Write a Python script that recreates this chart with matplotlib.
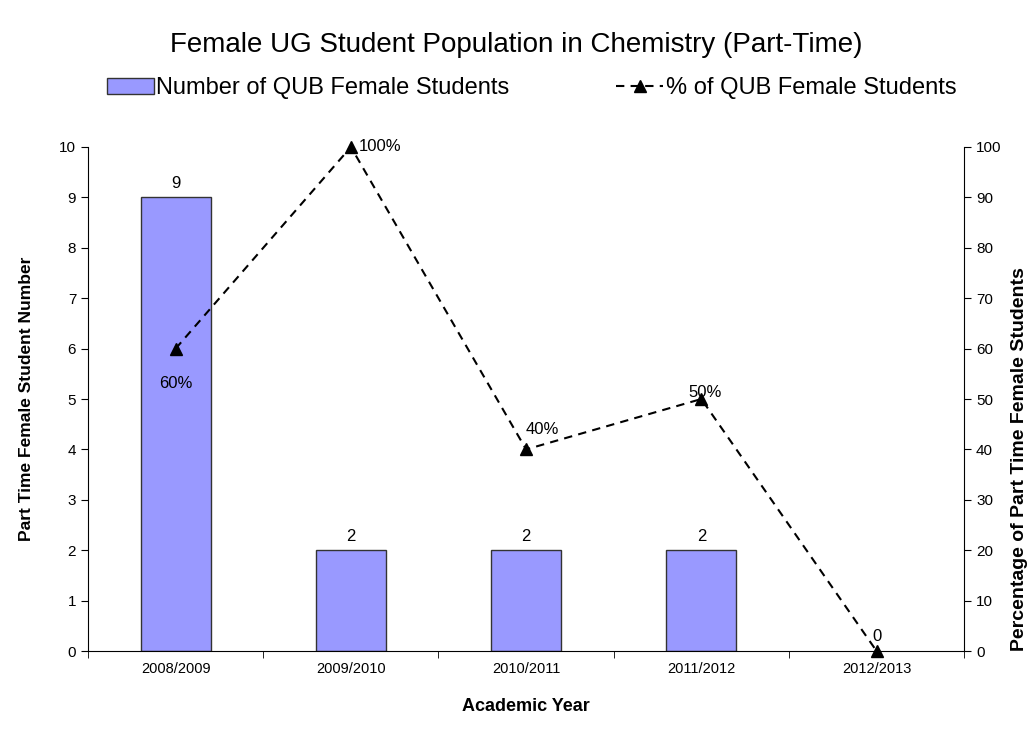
import numpy as np
import matplotlib.pyplot as plt
from matplotlib.ticker import FixedLocator

plt.rcParams['font.family'] = ['Liberation Sans', 'DejaVu Sans']

years = ["2008/2009", "2009/2010", "2010/2011", "2011/2012", "2012/2013"]
students = [9, 2, 2, 2, 0]
pct = [60, 100, 40, 50, 0]
pct_labels = ["60%", "100%", "40%", "50%", "0"]

fig = plt.figure(figsize=(10.32, 7.42), dpi=100)
ax = fig.add_axes([0.0853, 0.1226, 0.849, 0.6793])
ax2 = ax.twinx()

x = np.arange(len(years))
bar_h = [v if v > 0 else np.nan for v in students]
bars = ax.bar(x, bar_h, width=0.4, color="#9999FF", edgecolor="#333333", linewidth=1,
              label="Number of QUB Female Students", zorder=2)
for xi, v in zip(x, students):
    if v > 0:
        ax.text(xi, v + 0.12, str(v), ha="center", va="bottom", fontsize=12)

line, = ax2.plot(x, pct, linestyle=(0, (4, 3)), color="black", linewidth=1.5,
                 marker="^", markersize=9, label="% of QUB Female Students",
                 clip_on=False, zorder=3)
# label offsets (points), placed by hand like the reference
offs = [(0, -20, "center", "top"), (6, 0, "left", "center"), (0, 9, "left", "bottom"),
        (3, 5, "center", "center"), (0, 5, "center", "bottom")]
for xi, p, lab, (dx, dy, ha, va) in zip(x, pct, pct_labels, offs):
    ax2.annotate(lab, (xi, p), xytext=(dx, dy), textcoords="offset points",
                 ha=ha, va=va, fontsize=12)

ax.set_xlim(-0.5, len(years) - 0.5)
ax.set_ylim(0, 10)
ax2.set_ylim(0, 100)
ax.set_yticks(np.arange(0, 11, 1))
ax2.set_yticks(np.arange(0, 101, 10))

ax.set_xticks(x)
ax.set_xticklabels(years, fontsize=10.5)
ax.xaxis.set_minor_locator(FixedLocator(np.arange(-0.5, len(years), 1)))
ax.tick_params(axis="x", which="major", length=0, pad=8)
ax.tick_params(axis="x", which="minor", length=5, direction="out")
ax.tick_params(axis="y", labelsize=11, length=5, direction="out")
ax2.tick_params(axis="y", labelsize=11, length=5, direction="out")

for a in (ax, ax2):
    a.spines["top"].set_visible(False)
ax.spines["right"].set_visible(False)
ax2.spines["left"].set_visible(False)
ax2.spines["bottom"].set_visible(False)

ax.set_xlabel("Academic Year", fontsize=13, fontweight="bold", labelpad=16)
ax.set_ylabel("Part Time Female Student Number", fontsize=12.5, fontweight="bold", labelpad=18)
fig.text(1020 / 1032, 1 - 459 / 742, "Percentage of Part Time Female Students",
         rotation=90, ha="center", va="center", fontsize=14, fontweight="bold")

fig.suptitle("Female UG Student Population in Chemistry (Part-Time)", fontsize=20, y=0.957)

fig.legend(handles=[bars, line], loc="center", bbox_to_anchor=(0.515, 0.881), ncol=2,
           frameon=False, fontsize=17, columnspacing=4.5, handlelength=2.0,
           handletextpad=0.1)

fig.savefig("out.png", dpi=100)
